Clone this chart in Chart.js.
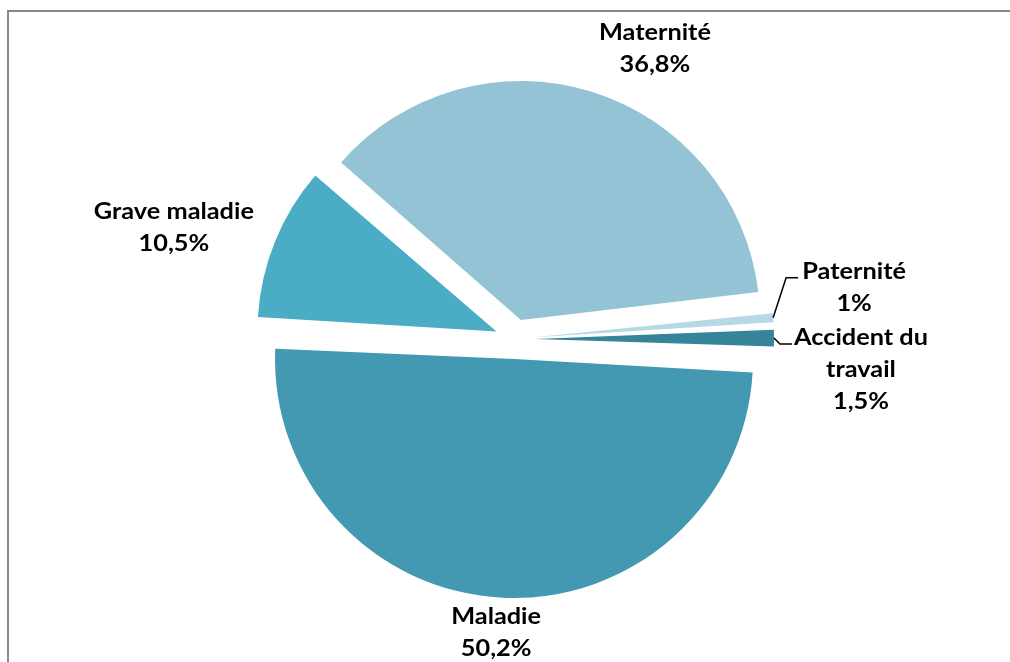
<!DOCTYPE html>
<html lang="fr">
<head>
<meta charset="UTF-8">
<title>Répartition des congés</title>
<style>
body { margin: 0; background: #fff; }
canvas { display: block; }
</style>
</head>
<body>
<canvas id="leaveChart" width="1010" height="662"></canvas>
<script src="https://cdn.jsdelivr.net/npm/chart.js"></script>
<script>
// data, clockwise from the top
const categories = ['Maternité', 'Paternité', 'Accident du travail', 'Maladie', 'Grave maladie'];
const shares = [36.8, 1, 1.5, 50.2, 10.5];
const shareTexts = ['36,8%', '1%', '1,5%', '50,2%', '10,5%'];
const labelLines = [['Maternité'], ['Paternité'], ['Accident du', 'travail'], ['Maladie'], ['Grave maladie']];

const sliceColors = ['#93C3D5', '#B7D8E4', '#368499', '#4399B1', '#4BACC6'];

const RADIUS = 239;
const EXPLODE = 20; // px each slice is pulled out (Chart.js moves arcs by offset / 4)

// where each label sits, relative to its exploded slice
// polar: angle shift (deg) from the bisector and distance past the rim
// leader: elbow / end of the leader line and text centre, relative to the rim point
const placement = [
    { type: 'polar', dAngle: 9, extra: 64 },
    { type: 'leader', elbow: [13, -40], end: [25, -40], text: [81, -31] },
    { type: 'leader', elbow: [6, 6], end: [18, 6], text: [87, 31] },
    { type: 'polar', dAngle: 0.9, extra: 35 },
    { type: 'polar', dAngle: -4.2, extra: 100 }
];

const FONT = 'bold 23px Lato';
const STRETCH = 1.1;
const LINE_H = 32;
const CAP_H = 16;

const framePlugin = {
    id: 'frame',
    beforeDraw(chart) {
        const ctx = chart.ctx;
        ctx.save();
        ctx.strokeStyle = '#898989';
        ctx.lineWidth = 2;
        ctx.beginPath();
        ctx.moveTo(8, 662);
        ctx.lineTo(8, 11);
        ctx.lineTo(1010, 11);
        ctx.stroke();
        ctx.restore();
    }
};

// Chart.js also grows the radius of an offset arc; undo that so every slice keeps the same rim
const evenRimPlugin = {
    id: 'evenRim',
    beforeDatasetsDraw(chart) {
        chart.getDatasetMeta(0).data.forEach(arc => {
            const fix = 1 - Math.sin(Math.min(Math.PI, arc.circumference || 0));
            arc.outerRadius = RADIUS - EXPLODE * fix;
        });
    }
};

function drawBlock(ctx, lines, cx, cy) {
    const top = cy - (lines.length - 1) * LINE_H / 2;
    lines.forEach((t, i) => {
        ctx.save();
        ctx.translate(cx, top + i * LINE_H + CAP_H / 2);
        ctx.scale(STRETCH, 1);
        ctx.fillText(t, 0, 0);
        ctx.restore();
    });
}

const labelPlugin = {
    id: 'sliceLabels',
    afterDatasetsDraw(chart) {
        const ctx = chart.ctx;
        const meta = chart.getDatasetMeta(0);
        ctx.save();
        ctx.font = FONT;
        ctx.fillStyle = '#000';
        ctx.textAlign = 'center';
        ctx.textBaseline = 'alphabetic';
        ctx.strokeStyle = '#000';
        ctx.lineWidth = 1.5;
        meta.data.forEach((arc, i) => {
            const p = arc.getProps(['x', 'y', 'startAngle', 'endAngle'], true);
            const mid = (p.startAngle + p.endAngle) / 2;
            const ax = p.x + Math.cos(mid) * EXPLODE;
            const ay = p.y + Math.sin(mid) * EXPLODE;
            const lines = labelLines[i].concat([shareTexts[i]]);
            const pl = placement[i];
            if (pl.type === 'polar') {
                const a = mid + pl.dAngle * Math.PI / 180;
                const d = RADIUS + pl.extra;
                drawBlock(ctx, lines, ax + Math.cos(a) * d, ay + Math.sin(a) * d);
            } else {
                const rx = ax + Math.cos(mid) * RADIUS;
                const ry = ay + Math.sin(mid) * RADIUS;
                ctx.beginPath();
                ctx.moveTo(rx, ry);
                ctx.lineTo(rx + pl.elbow[0], ry + pl.elbow[1]);
                ctx.lineTo(rx + pl.end[0], ry + pl.end[1]);
                ctx.stroke();
                drawBlock(ctx, lines, rx + pl.text[0], ry + pl.text[1]);
            }
        });
        ctx.restore();
    }
};

const ctx = document.getElementById('leaveChart').getContext('2d');
new Chart(ctx, {
    type: 'pie',
    data: {
        labels: categories,
        datasets: [{
            data: shares,
            backgroundColor: sliceColors,
            borderWidth: 0,
            offset: EXPLODE * 4
        }]
    },
    options: {
        responsive: false,
        animation: false,
        rotation: -49,
        radius: RADIUS,
        layout: { padding: { left: 20, top: 16, right: 0, bottom: 0 } },
        plugins: {
            legend: { display: false },
            tooltip: { enabled: false }
        }
    },
    plugins: [framePlugin, evenRimPlugin, labelPlugin]
});
</script>
</body>
</html>
